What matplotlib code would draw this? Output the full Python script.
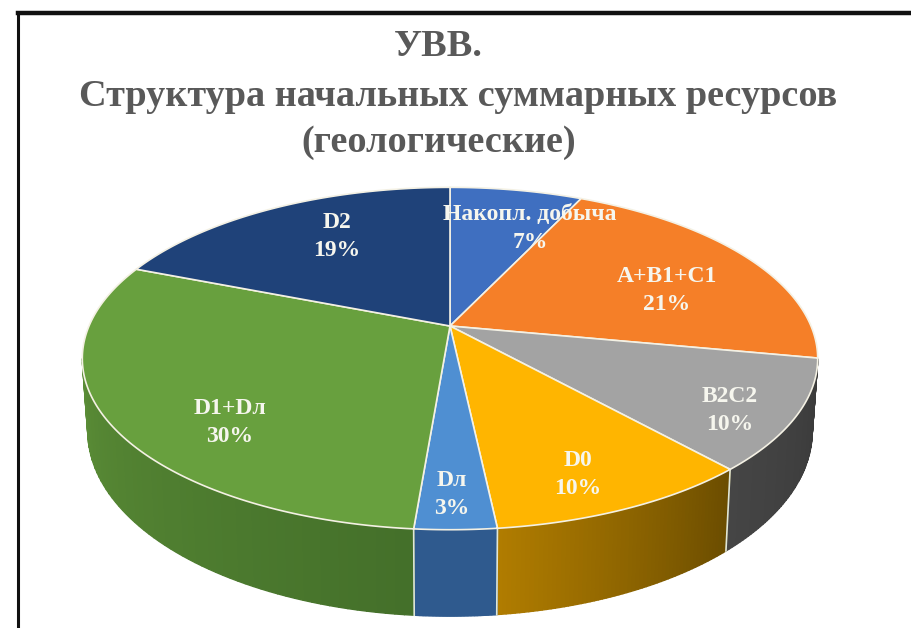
import numpy as np
import matplotlib
matplotlib.use("Agg")
import matplotlib.pyplot as plt
from matplotlib.colors import to_rgb

labels = ["Накопл. добыча", "A+B1+C1", "B2C2", "D0", "Dл", "D1+Dл", "D2"]
values = [7, 21, 10.4, 9.9, 3, 29.7, 19]
top_colors = ["#3f6fc0", "#f57f28", "#a3a3a3", "#ffb500", "#4f8fd2", "#68a03e", "#1f4279"]
side_start = ["#2f5597", "#a85a1c", "#3a3a3a", "#6b4d00", "#2f5a8e", "#44702a", "#16305a"]
side_end = ["#2f5597", "#a85a1c", "#454545", "#b07c00", "#2f5a8e", "#5a8c36", "#16305a"]
label_xy = [(530, 229), (667, 290), (730, 410), (578, 475), (452, 494), (230, 422), (337, 236)]
title_lines = ["УВВ.", "Структура начальных суммарных ресурсов", "(геологические)"]
title_x = [438, 458, 439]
title_y = [47, 97, 143]

# perspective of the disc, in pixels of the reference
cx, cy = 450, 326
bx, ay, k = 361, 165, 0.19
depth = 70
shrink = 0.985


def project(theta, r=1.0):
    X = r * np.sin(theta)
    Y = r * np.cos(theta)
    s = 1 / (1 + k * Y)
    return cx + bx * X * s, cy - ay * Y * s, s


def lower(x, y, s):
    return cx + (x - cx) * shrink, y + depth * s


fig = plt.figure(figsize=(9.11, 6.28), dpi=100)
ax = fig.add_axes([0, 0, 1, 1])
ax.set_xlim(0, 911)
ax.set_ylim(628, 0)
ax.axis("off")

# frame of the slide
ax.plot([18, 18], [628, 13], color="#111111", lw=2.2)
ax.plot([18, 911], [13, 13], color="#111111", lw=3.2)

edges = np.cumsum([0] + values) / sum(values) * 2 * np.pi
lim0 = np.arccos(-k)
lim1 = 2 * np.pi - lim0

# side wall, front half only, strips give the shading
for i in range(len(values)):
    a0, a1 = max(edges[i], lim0), min(edges[i + 1], lim1)
    if a1 <= a0:
        continue
    th = np.linspace(a0, a1, 60)
    c0, c1 = np.array(to_rgb(side_start[i])), np.array(to_rgb(side_end[i]))
    for j in range(len(th) - 1):
        t = np.linspace(th[j], th[j + 1], 3)
        x, y, s = project(t)
        xb, yb = lower(x, y, s)
        col = c0 + (c1 - c0) * j / 58
        ax.fill(np.r_[x, xb[::-1]], np.r_[y, yb[::-1]], facecolor=col, edgecolor=col,
                lw=1.0, zorder=2)
    if edges[i] >= lim0:
        x, y, s = project(np.array([a0]))
        xb, yb = lower(x, y, s)
        ax.plot([x[0], xb[0]], [y[0], yb[0]], color="#dfe6d8", lw=1.2, zorder=3)

# top of the pie
for i in range(len(values)):
    th = np.linspace(edges[i], edges[i + 1], 120)
    x, y, s = project(th)
    ax.fill(np.r_[cx, x], np.r_[cy, y], facecolor=top_colors[i],
            edgecolor="#f4f1e4", lw=1.2, zorder=4)

for name, val, (lx, ly) in zip(labels, values, label_xy):
    ax.text(lx, ly - 14, name, color="#f6f6ee", fontsize=17, fontweight="bold",
            family="Liberation Serif", ha="center", va="center", zorder=5)
    ax.text(lx, ly + 14, f"{val:.0f}%", color="#f6f6ee", fontsize=17, fontweight="bold",
            family="Liberation Serif", ha="center", va="center", zorder=5)

for line, x, y in zip(title_lines, title_x, title_y):
    ax.text(x, y, line, color="#595959", fontsize=27.5, fontweight="bold",
            family="Liberation Serif", ha="center", va="center")

fig.savefig("out.png", dpi=100, facecolor="white")
